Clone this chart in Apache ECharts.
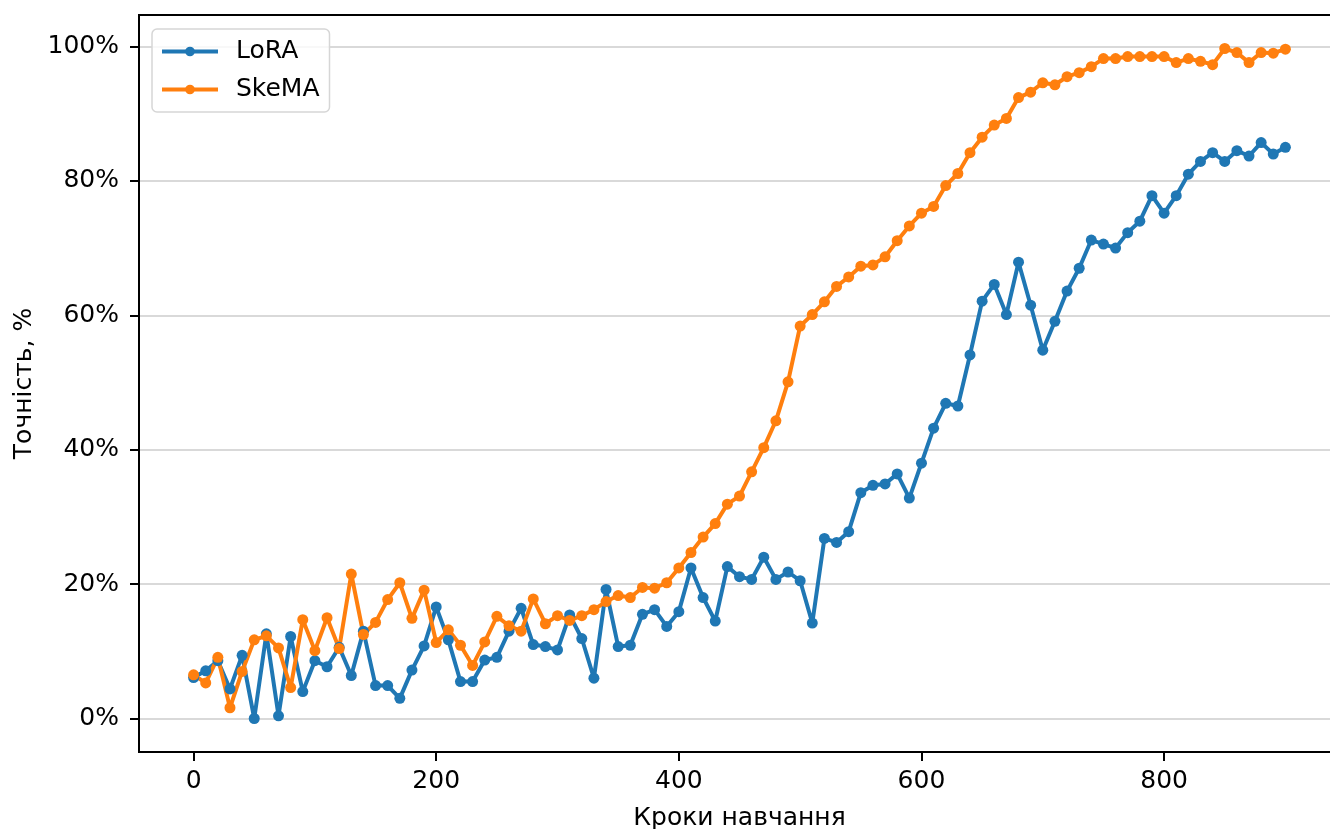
<!DOCTYPE html>
<html>
<head>
<meta charset="utf-8">
<script src="https://cdn.jsdelivr.net/npm/echarts@6/dist/echarts.min.js"></script>
<style>
html,body{margin:0;padding:0;background:#fff;}
#chart{width:1330px;height:829px;}
</style>
</head>
<body>
<div id="chart"></div>
<script>
const steps = [0,10,20,30,40,50,60,70,80,90,100,110,120,130,140,150,160,170,180,190,
  200,210,220,230,240,250,260,270,280,290,300,310,320,330,340,350,360,370,380,390,
  400,410,420,430,440,450,460,470,480,490,500,510,520,530,540,550,560,570,580,590,
  600,610,620,630,640,650,660,670,680,690,700,710,720,730,740,750,760,770,780,790,
  800,810,820,830,840,850,860,870,880,890,900];

const loraValues = [6.1,7.1,8.6,4.4,9.4,0.0,12.6,0.4,12.2,4.0,
  8.6,7.7,10.6,6.4,13.0,4.9,4.9,3.0,7.2,10.8,
  16.6,11.7,5.5,5.5,8.7,9.1,13.0,16.4,11.0,10.7,
  10.2,15.4,11.9,6.0,19.2,10.7,10.9,15.5,16.2,13.7,
  15.9,22.4,18.0,14.5,22.6,21.1,20.7,24.0,20.7,21.8,
  20.5,14.2,26.8,26.2,27.8,33.6,34.7,34.9,36.4,32.8,
  38.0,43.2,46.9,46.5,54.1,62.1,64.6,60.1,67.9,61.5,
  54.8,59.1,63.6,67.0,71.2,70.6,70.0,72.3,74.0,77.8,
  75.2,77.8,81.0,82.9,84.2,82.9,84.5,83.7,85.7,84.0,85.0];

const skemaValues = [6.5,5.3,9.1,1.6,7.0,11.7,12.3,10.5,4.6,14.7,
  10.1,15.0,10.4,21.5,12.5,14.3,17.7,20.2,14.9,19.1,
  11.3,13.2,10.9,7.9,11.4,15.2,13.8,13.0,17.8,14.1,
  15.3,14.6,15.3,16.2,17.4,18.3,18.0,19.5,19.4,20.2,
  22.4,24.7,27.0,29.0,31.9,33.1,36.7,40.3,44.3,50.1,
  58.4,60.1,62.0,64.3,65.7,67.3,67.5,68.7,71.1,73.3,
  75.2,76.2,79.3,81.1,84.2,86.5,88.3,89.3,92.4,93.2,
  94.6,94.3,95.5,96.1,97.0,98.2,98.2,98.5,98.5,98.5,
  98.5,97.6,98.2,97.8,97.3,99.7,99.1,97.6,99.1,99.0,99.6];

const xTicks = [0,200,400,600,800];
const yTicks = [0,20,40,60,80,100];
const seriesNames = ['LoRA','SkeMA'];
const xTitle = 'Кроки навчання';
const yTitle = 'Точність, %';

const FONT = 'DejaVu Sans';
const FS = 25;

function pairs(vals){ return steps.map((s,i)=>[s, vals[i]]); }

const chart = echarts.init(document.getElementById('chart'), null, {renderer:'canvas'});
const lineSeries = (name, vals, color) => ({
  name: name,
  type: 'line',
  data: pairs(vals),
  symbol: 'circle',
  symbolSize: 11,
  showSymbol: true,
  lineStyle: {color: color, width: 4},
  itemStyle: {color: color},
  emphasis: {disabled: true},
  animation: false
});

chart.setOption({
  animation: false,
  backgroundColor: '#fff',
  textStyle: {fontFamily: FONT},
  grid: {
    left: 139, top: 15, width: 1201, height: 737,
    show: true, borderColor: '#000', borderWidth: 2, backgroundColor: 'transparent',
    outerBoundsMode: 'none',
    containLabel: false
  },
  legend: {
    data: seriesNames,
    orient: 'vertical',
    left: 152, top: 29,
    padding: [10, 10, 10, 8],
    itemWidth: 56, itemHeight: 12, itemGap: 13,
    backgroundColor: 'rgba(255,255,255,0.8)',
    borderColor: '#d6d6d6', borderWidth: 1.5, borderRadius: 5,
    lineStyle: {width: 4},
    textStyle: {fontFamily: FONT, fontSize: FS, color: '#000', padding: [0,0,0,13]},
    z: 10
  },
  xAxis: {
    type: 'value',
    min: -45, max: 945,
    name: xTitle,
    nameLocation: 'middle',
    nameGap: 54,
    nameTextStyle: {fontFamily: FONT, fontSize: FS, color: '#000', verticalAlign: 'top'},
    axisLine: {show: true, onZero: false, lineStyle: {color: '#000', width: 2}},
    axisTick: {show: true, length: 9, lineStyle: {color: '#000', width: 2}, customValues: xTicks},
    axisLabel: {show: true, margin: 17, fontFamily: FONT, fontSize: FS, color: '#000', customValues: xTicks,
      formatter: v => String(v)},
    splitLine: {show: false}
  },
  yAxis: {
    type: 'value',
    min: -4.985, max: 104.685,
    name: yTitle,
    nameLocation: 'middle',
    nameRotate: 90,
    nameGap: 94,
    nameTextStyle: {fontFamily: FONT, fontSize: FS, color: '#000'},
    axisLine: {show: true, onZero: false, lineStyle: {color: '#000', width: 2}},
    axisTick: {show: true, length: 9, lineStyle: {color: '#000', width: 2}, customValues: yTicks},
    axisLabel: {show: true, margin: 20, fontFamily: FONT, fontSize: FS, color: '#000', customValues: yTicks,
      formatter: v => v + '%'},
    splitLine: {show: true, lineStyle: {color: '#cccccc', width: 1.5}}
  },
  series: [
    lineSeries(seriesNames[0], loraValues, '#1f77b4'),
    lineSeries(seriesNames[1], skemaValues, '#ff7f0e')
  ]
});
</script>
</body>
</html>
